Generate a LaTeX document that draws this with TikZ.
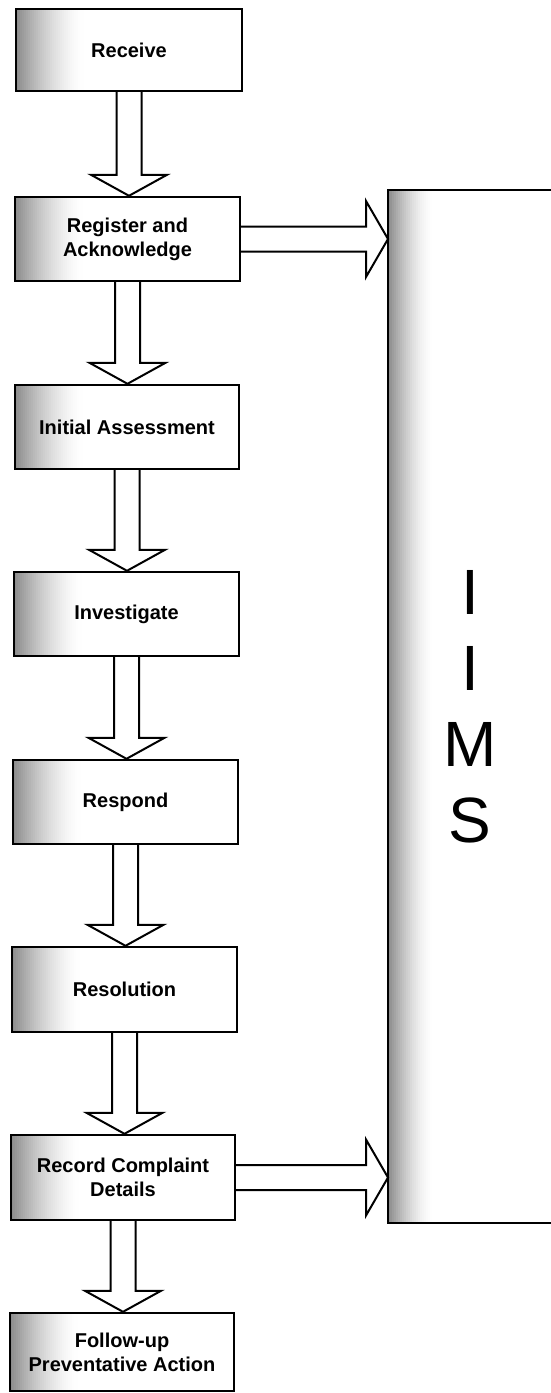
\documentclass[tikz,border=0pt]{standalone}
\usepackage{fontspec}
\setmainfont{Liberation Sans}
\usetikzlibrary{calc}
\newcommand\leftfade[2]{% #1 = width in pt, #2 = darkness at the left edge
  \foreach \i in {0,...,#1}{%
    \pgfmathsetmacro\g{#2*(1-\i/#1)^1.6}%
    \pgfmathsetmacro\xb{\i+1.1}%
    \fill[black!\g] ([xshift=\i pt]path picture bounding box.south west)
      rectangle ([xshift=\xb pt]path picture bounding box.north west);}}
\tikzset{
  stepbox/.style={draw, line width=1.2pt, fill=white, inner sep=0pt, align=center,
    font=\bfseries\fontsize{10}{12}\selectfont,
    path picture={\leftfade{34}{45}}},
  blockarrow/.style={draw, fill=white, line width=1pt, line join=miter},
  iimsbox/.style={inner sep=0pt, outer sep=0pt, align=center,
    font=\fontsize{32}{38}\selectfont,
    path picture={\leftfade{22}{45}}},
  iimsedge/.style={line width=1.2pt}
}
\newcommand\downarr[2]{%
  \coordinate (T) at (#1.south |- #2.north);
  \filldraw[blockarrow] ($(#1.south)+(-12.5,0)$) -- ($(T)+(-12.5,-21)$) -- ($(T)+(-38,-21)$)
    -- (T) -- ($(T)+(38,-21)$) -- ($(T)+(12.5,-21)$) -- ($(#1.south)+(12.5,0)$);}
\newcommand\rightarr[2]{%
  \coordinate (T) at (#2.west |- #1.east);
  \filldraw[blockarrow] ($(#1.east)+(0,-12.5)$) -- ($(T)+(-22,-12.5)$) -- ($(T)+(-22,-38)$)
    -- (T) -- ($(T)+(-22,38)$) -- ($(T)+(-22,12.5)$) -- ($(#1.east)+(0,12.5)$);}
\begin{document}
\begin{tikzpicture}[x=0.5pt,y=-0.5pt]
\useasboundingbox[fill=white] (0,0) rectangle (551,1393);

\node[stepbox, minimum width=113pt, minimum height=41pt] (rec) at (129,50) {Receive};
\node[stepbox, minimum width=112.5pt, minimum height=42pt] (reg) at (127.5,239) {Register and\\Acknowledge};
\node[stepbox, minimum width=112pt, minimum height=42pt] (ini) at (127,427) {Initial Assessment};
\node[stepbox, minimum width=112.5pt, minimum height=42pt] (inv) at (126.5,614) {Investigate};
\node[stepbox, minimum width=112.5pt, minimum height=42pt] (res) at (125.5,802) {Respond};
\node[stepbox, minimum width=112.5pt, minimum height=42.5pt] (rsl) at (124.5,989.5) {Resolution};
\node[stepbox, minimum width=112pt, minimum height=42.5pt] (rcd) at (123,1177.5) {Record Complaint\\Details};
\node[stepbox, minimum width=112pt, minimum height=39pt] (fol) at (122,1352) {Follow-up\\Preventative Action};

\node[iimsbox, minimum width=82pt, minimum height=516.5pt] (iims) at (470,706.5) {I\\I\\M\\S};
\draw[iimsedge] (iims.north east) -- (iims.north west) -- (iims.south west) -- (iims.south east);

\downarr{rec}{reg}
\downarr{reg}{ini}
\downarr{ini}{inv}
\downarr{inv}{res}
\downarr{res}{rsl}
\downarr{rsl}{rcd}
\downarr{rcd}{fol}
\rightarr{reg}{iims}
\rightarr{rcd}{iims}
\end{tikzpicture}
\end{document}
